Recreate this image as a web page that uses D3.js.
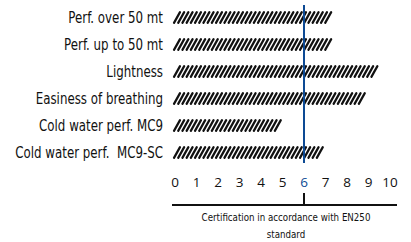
<!DOCTYPE html>
<html><head><meta charset="utf-8">
<script src="https://cdn.jsdelivr.net/npm/d3@7"></script>
<style>
body{margin:0;background:#fff;}
svg{display:block;}
</style></head>
<body><svg id="c" width="411" height="242"></svg>
<script>
const categories = ["Perf. over 50 mt","Perf. up to 50 mt","Lightness","Easiness of breathing","Cold water perf. MC9","Cold water perf.  MC9-SC"];
const values = [7.4, 7.4, 9.5, 8.9, 5.0, 7.0];
const tickValues = [0,1,2,3,4,5,6,7,8,9,10];
const threshold = 6;
const captionLines = ["Certification in accordance with EN250","standard"];

const svg = d3.select("#c");
const labelFont = "'DejaVu Sans Condensed','DejaVu Sans',sans-serif";
const x = d3.scaleLinear().domain([0,10]).range([175,390]);
const y = d3.scaleBand().domain(categories).range([4,166]).paddingInner(0.6).paddingOuter(0.3);
const bh = y.bandwidth();

// labels
svg.selectAll("text.cat").data(categories).join("text")
  .attr("class","cat")
  .attr("transform",d=>`translate(163,${y(d)+bh/2}) scale(0.94,1.12)`)
  .attr("dy","0.36em")
  .attr("text-anchor","end")
  .style("font-family",labelFont).style("font-stretch","condensed").style("font-size","14px").style("fill","#111")
  .style("white-space","pre")
  .text(d=>d);

// hatched bars
const step = 4.2, run = 6;
const bars = svg.selectAll("g.bar").data(categories.map((c,i)=>({c,v:values[i]}))).join("g").attr("class","bar");
bars.each(function(d){
  const g = d3.select(this);
  const y0 = y(d.c), y1 = y0+bh;
  const xs = d3.range(x(0)-1, x(d.v)-run+1, step);
  g.selectAll("line").data(xs).join("line")
    .attr("x1",v=>v).attr("y1",y1)
    .attr("x2",v=>v+run).attr("y2",y0)
    .attr("stroke","#111").attr("stroke-width",2.2).attr("stroke-linecap","round");
});

// threshold line
svg.append("line")
  .attr("x1",x(threshold)).attr("x2",x(threshold))
  .attr("y1",5).attr("y2",163)
  .attr("stroke","#0d4a94").attr("stroke-width",2);

// tick labels
svg.selectAll("text.tick").data(tickValues).join("text")
  .attr("class","tick")
  .attr("x",d=>x(d)).attr("y",187)
  .attr("text-anchor","middle")
  .style("font-family","'Open Sans',sans-serif").style("font-size","13.5px")
  .style("fill",d=>d===threshold?"#0d4a94":"#111")
  .text(d=>d);

// bottom axis line + tick
svg.append("line").attr("x1",172).attr("x2",397).attr("y1",205).attr("y2",205)
  .attr("stroke","#111").attr("stroke-width",2);
svg.append("line").attr("x1",x(threshold)).attr("x2",x(threshold)).attr("y1",193).attr("y2",205)
  .attr("stroke","#111").attr("stroke-width",2);

// caption
svg.selectAll("text.cap").data(captionLines).join("text")
  .attr("class","cap")
  .attr("transform",(d,i)=>`translate(286,${221+i*17}) scale(0.92,1.08)`)
  .attr("text-anchor","middle")
  .style("font-family",labelFont).style("font-size","10.5px").style("fill","#111")
  .text(d=>d);
</script></body></html>
